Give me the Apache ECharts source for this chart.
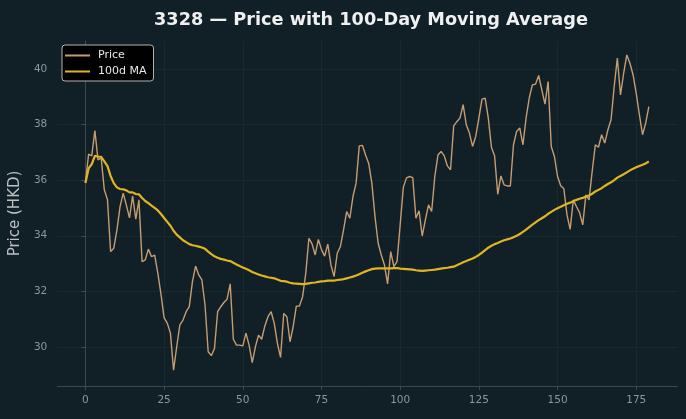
<!DOCTYPE html>
<html>
<head>
<meta charset="utf-8">
<script src="https://cdn.jsdelivr.net/npm/echarts@6/dist/echarts.min.js"></script>
<style>
  html, body { margin: 0; padding: 0; background: #111f26; }
  #chart { width: 686px; height: 419px; }
</style>
</head>
<body>
<div id="chart"></div>
<script>
// daily closing price, day 0..179
var price = [
    35.90, 36.93, 36.87, 37.78, 36.73, 36.80, 35.65, 35.30, 33.43, 33.55,
    34.20, 35.05, 35.53, 35.10, 34.64, 35.43, 34.60, 35.29, 33.07, 33.13,
    33.52, 33.25, 33.30, 32.66, 31.90, 31.05, 30.86, 30.50, 29.17, 30.01,
    30.80, 30.97, 31.27, 31.45, 32.35, 32.91, 32.59, 32.41, 31.51, 29.83,
    29.69, 29.95, 31.27, 31.45, 31.60, 31.72, 32.27, 30.28, 30.07, 30.07,
    30.04, 30.50, 30.07, 29.44, 30.01, 30.43, 30.28, 30.76, 31.09, 31.27,
    30.85, 30.13, 29.63, 31.21, 31.09, 30.19, 30.73, 31.47, 31.47, 31.81,
    32.65, 33.91, 33.71, 33.31, 33.87, 33.50, 33.27, 33.70, 32.95, 32.53,
    33.37, 33.61, 34.21, 34.87, 34.63, 35.41, 35.89, 37.23, 37.25, 36.90,
    36.60, 35.89, 34.69, 33.73, 33.31, 32.95, 32.27, 33.43, 32.89, 33.07,
    34.40, 35.74, 36.08, 36.13, 36.09, 34.63, 34.90, 33.99, 34.57, 35.11,
    34.87, 36.13, 36.90, 37.03, 36.87, 36.51, 36.37, 37.95, 38.10, 38.23,
    38.71, 37.99, 37.69, 37.21, 37.57, 38.23, 38.91, 38.95, 38.23, 37.18,
    36.87, 35.49, 36.15, 35.83, 35.79, 35.79, 37.27, 37.75, 37.87, 37.27,
    38.23, 38.95, 39.42, 39.45, 39.76, 39.24, 38.73, 39.54, 37.21, 36.85,
    36.13, 35.80, 35.69, 34.75, 34.23, 35.29, 35.05, 34.83, 34.39, 35.47,
    35.29, 36.31, 37.27, 37.18, 37.63, 37.33, 37.81, 38.17, 39.37, 40.39,
    39.06, 39.84, 40.50, 40.20, 39.78, 39.12, 38.35, 37.63, 38.05, 38.64
]

// 100-day moving average as drawn
var ma100 = [
    35.90, 36.42, 36.57, 36.87, 36.84, 36.84, 36.67, 36.50, 36.15, 35.89,
    35.74, 35.68, 35.67, 35.63, 35.56, 35.56, 35.50, 35.49, 35.36, 35.25,
    35.17, 35.08, 35.00, 34.91, 34.78, 34.64, 34.50, 34.36, 34.18, 34.04,
    33.94, 33.84, 33.77, 33.70, 33.66, 33.64, 33.61, 33.58, 33.53, 33.43,
    33.34, 33.26, 33.21, 33.17, 33.14, 33.11, 33.09, 33.03, 32.97, 32.91,
    32.86, 32.81, 32.76, 32.70, 32.65, 32.61, 32.57, 32.54, 32.51, 32.49,
    32.47, 32.43, 32.38, 32.37, 32.35, 32.31, 32.29, 32.28, 32.27, 32.26,
    32.27, 32.29, 32.31, 32.32, 32.34, 32.36, 32.37, 32.39, 32.39, 32.39,
    32.41, 32.42, 32.44, 32.47, 32.50, 32.53, 32.57, 32.62, 32.67, 32.72,
    32.76, 32.80, 32.82, 32.83, 32.83, 32.83, 32.83, 32.83, 32.84, 32.84,
    32.82, 32.81, 32.80, 32.79, 32.78, 32.76, 32.75, 32.74, 32.75, 32.76,
    32.77, 32.78, 32.80, 32.82, 32.84, 32.85, 32.87, 32.89, 32.94, 32.99,
    33.05, 33.09, 33.14, 33.18, 33.24, 33.31, 33.39, 33.48, 33.57, 33.64,
    33.70, 33.74, 33.79, 33.84, 33.87, 33.90, 33.95, 34.00, 34.06, 34.14,
    34.22, 34.31, 34.40, 34.48, 34.56, 34.63, 34.70, 34.79, 34.86, 34.93,
    34.99, 35.04, 35.10, 35.15, 35.19, 35.24, 35.29, 35.33, 35.36, 35.41,
    35.45, 35.51, 35.59, 35.65, 35.71, 35.79, 35.86, 35.92, 36.00, 36.09,
    36.15, 36.21, 36.28, 36.35, 36.41, 36.46, 36.51, 36.55, 36.60, 36.67
]

var xTicks = [0, 25, 50, 75, 100, 125, 150, 175]
var yTicks = [30, 32, 34, 36, 38, 40]

var days = price.map(function (v, i) { return i })

function create_chart() {
    var chartDom = document.getElementById('chart')
    var myChart = echarts.init(chartDom, null, { renderer: 'canvas' })

    var gridColor = '#192930'
    var spineColor = '#3b4a50'
    var tickText = '#8c979c'

    let options = {
        backgroundColor: '#111f26',
        animation: false,
        title: {
            text: '3328 \u2014 Price with 100-Day Moving Average',
            left: 366,
            textAlign: 'center',
            top: 6,
            textStyle: {
                color: '#f0f0f0',
                fontFamily: 'DejaVu Sans',
                fontWeight: 'bold',
                fontSize: 17.7
            }
        },
        legend: {
            left: 62,
            top: 45,
            orient: 'vertical',
            backgroundColor: '#000000',
            borderColor: '#b4b4b4',
            borderWidth: 1,
            borderRadius: 3,
            padding: [5, 7, 4, 3],
            itemGap: 5,
            itemWidth: 25,
            itemHeight: 2,
            icon: 'rect',
            textStyle: {
                color: '#e8e8e8',
                fontFamily: 'DejaVu Sans',
                fontSize: 11,
                padding: [0, 0, 0, 3]
            },
            data: ['Price', '100d MA']
        },
        grid: {
            left: 56,
            right: 9,
            top: 41,
            bottom: 33,
            containLabel: false
        },
        xAxis: {
            type: 'value',
            min: -8.95,
            max: 187.95,
            axisLine: { show: true, lineStyle: { color: spineColor, width: 1 } },
            axisTick: {
                show: true,
                length: 4,
                customValues: xTicks,
                lineStyle: { color: spineColor }
            },
            axisLabel: {
                customValues: xTicks,
                color: tickText,
                fontFamily: 'DejaVu Sans',
                fontSize: 10.5,
                margin: 9
            },
            splitLine: { show: true, lineStyle: { color: gridColor, width: 1 } }
        },
        yAxis: {
            type: 'value',
            min: 28.6,
            max: 41.0,
            name: 'Price (HKD)',
            nameLocation: 'middle',
            nameGap: 30,
            nameTextStyle: {
                color: '#b9c1c5',
                fontFamily: 'DejaVu Sans',
                fontSize: 15
            },
            axisLine: { show: true, lineStyle: { color: spineColor, width: 1 } },
            axisTick: {
                show: true,
                length: 4,
                customValues: yTicks,
                lineStyle: { color: spineColor }
            },
            axisLabel: {
                customValues: yTicks,
                color: tickText,
                fontFamily: 'DejaVu Sans',
                fontSize: 10.5,
                margin: 10
            },
            splitLine: { show: true, lineStyle: { color: gridColor, width: 1 } }
        },
        series: [
            {
                name: 'Price',
                type: 'line',
                data: days.map(function (d, i) { return [d, price[i]] }),
                showSymbol: false,
                color: '#c69d72',
                lineStyle: { color: '#c69d72', width: 1.4 },
                z: 2
            },
            {
                name: '100d MA',
                type: 'line',
                data: days.map(function (d, i) { return [d, ma100[i]] }),
                showSymbol: false,
                color: '#e0b422',
                lineStyle: { color: '#e0b422', width: 2.2 },
                z: 3
            }
        ]
    }
    myChart.setOption(options)
}

create_chart()
</script>
</body>
</html>
